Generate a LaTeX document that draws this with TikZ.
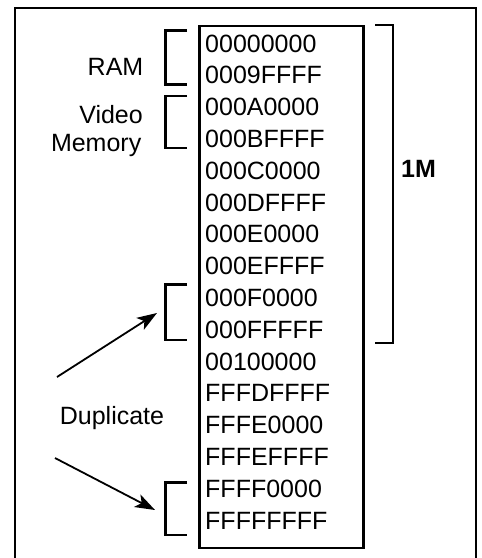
\documentclass[tikz,border=0pt]{standalone}
\usepackage{fontspec}
\setmainfont{Liberation Sans}
\usetikzlibrary{arrows.meta}
\begin{document}
\begin{tikzpicture}[x=1pt,y=-1pt,
  lbl/.style={inner sep=0pt,font=\fontsize{25}{22}\selectfont},
  rowtext/.style={lbl,anchor=base west},
  frameline/.style={line width=2.3pt},
  brk/.style={line width=2.3pt},
  arr/.style={line width=1.8pt,-{Stealth[length=20pt,width=14pt,inset=5pt]}}]
\useasboundingbox (0,0) rectangle (482,558);
% outer frame
\draw[frameline] (15.3,562) -- (15.3,8) -- (476,8) -- (476,562);
% memory box
\node[draw,frameline,minimum width=164pt,minimum height=522pt,anchor=north west,inner sep=0pt] (box) at (198.3,25) {};
% rows
\foreach \t [count=\i from 0] in {00000000,0009FFFF,000A0000,000BFFFF,000C0000,000DFFFF,000E0000,000EFFFF,000F0000,000FFFFF,00100000,FFFDFFFF,FFFE0000,FFFEFFFF,FFFF0000,FFFFFFFF}
  \node[rowtext] (r\i) at (205,{52+31.8*\i}) {\t};
% left brackets
\draw[brk] (187,30.5) -- (165.5,30.5) -- (165.5,84.5) -- (187,84.5);
\draw[brk] (187,96) -- (165.5,96) -- (165.5,148) -- (187,148);
\draw[brk] (187,284.5) -- (165.5,284.5) -- (165.5,340) -- (187,340);
\draw[brk] (187,482.5) -- (165.5,482.5) -- (165.5,535) -- (187,535);
% right bracket
\draw[brk] (375,24.7) -- (393.3,24.7) -- (393.3,343) -- (375,343);
% labels
\node[lbl,anchor=base east] (ram) at (143.5,75) {RAM};
\node[lbl,anchor=base east] (video) at (143,123.3) {Video};
\node[lbl,anchor=base east] (memory) at (141.5,151.7) {Memory};
\node[lbl,anchor=base west,font=\fontsize{25}{22}\selectfont\bfseries] (onem) at (401,177) {1M};
\node[lbl,anchor=base west] (dup) at (59.7,424.3) {Duplicate};
% arrows
\coordinate (a1s) at (57,377);
\coordinate (a1e) at (157,313);
\coordinate (a2s) at (55,458);
\coordinate (a2e) at (155,510);
\draw[arr] (a1s) -- (a1e);
\draw[arr] (a2s) -- (a2e);
\end{tikzpicture}
\end{document}
